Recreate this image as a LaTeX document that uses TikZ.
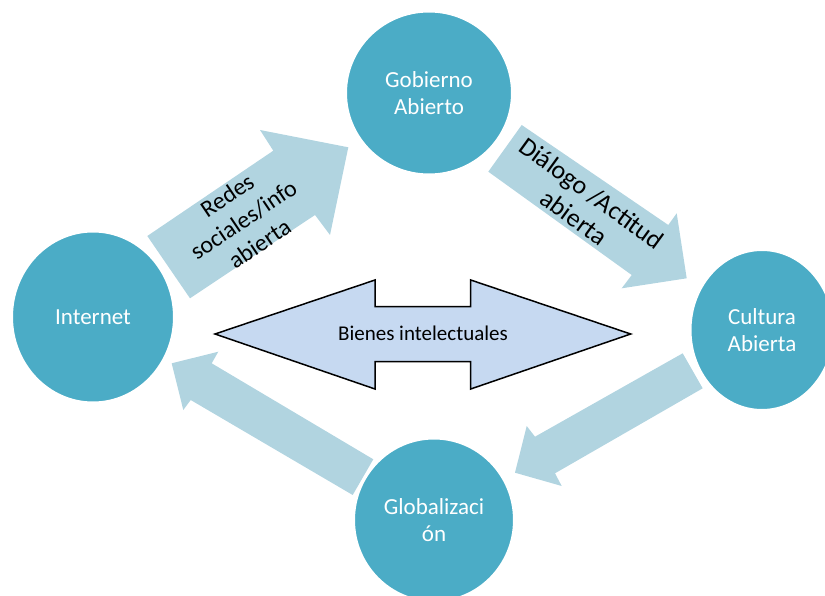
\documentclass[tikz,border=0pt]{standalone}
\usepackage{fontspec}
\setmainfont{Carlito}
\usetikzlibrary{shapes.geometric}
\definecolor{bubble}{HTML}{4BACC6}
\definecolor{flow}{HTML}{B1D4E0}
\definecolor{twoway}{HTML}{C6D9F1}

\begin{document}
\begin{tikzpicture}[x=1pt,y=-1pt,
  bubble/.style={ellipse, fill=bubble, draw=white, line width=3pt, text=white,
    align=center, inner sep=0pt, font=\fontsize{23}{27}\selectfont},
  flowarrow/.style={fill=flow, draw=none},
  flowlabel/.style={align=center, text=black, inner sep=0pt}]
\useasboundingbox (0,0) rectangle (825,596);

% block arrows of the cycle
\path[flowarrow] (190,298.3) -- (147.3,236) -- (273.3,150.7) -- (260,130)
  -- (348.3,147.3) -- (330,235) -- (315,215) -- cycle;
\path[flowarrow] (521.7,125) -- (668.3,225) -- (676.7,213.3) -- (686.7,278.3)
  -- (621.7,288.3) -- (631.7,275) -- (488.3,171.7) -- cycle;
\path[flowarrow] (682.7,353.3) -- (535,436.7) -- (526.7,426) -- (515,472.7)
  -- (561.7,486) -- (555,473.3) -- (702.7,388.3) -- cycle;
\path[flowarrow] (352.7,495) -- (373.3,459.3) -- (211.7,363.3) -- (218.3,351.7)
  -- (171.7,363.3) -- (183.3,410) -- (190.7,400) -- cycle;

% arrow labels
\node[flowlabel, rotate=34, font=\fontsize{24}{29}\selectfont] (redes) at (243.3,219.5)
  {Redes\\sociales/info\\abierta};
\node[flowlabel, rotate=-36, font=\fontsize{26}{30}\selectfont] (dialogo) at (583,205.3)
  {Diálogo /Actitud\\abierta};

% central two-way arrow
\path[fill=twoway, draw=black, line width=1.5pt, line join=miter]
  (215,334) -- (375,280) -- (375,306.7) -- (470.7,306.7) -- (470.7,280)
  -- (630.7,334) -- (470.7,389) -- (470.7,361.7) -- (375,361.7) -- (375,389) -- cycle;
\node[font=\fontsize{21}{25}\selectfont, inner sep=0pt] (bienes) at (423,333) {Bienes intelectuales};

% concept bubbles
\node[bubble, minimum width=167pt, minimum height=164pt] (gob) at (429,93) {Gobierno\\Abierto};
\node[bubble, minimum width=163pt, minimum height=172pt] (inet) at (93,317) {Internet};
\node[bubble, minimum width=144pt, minimum height=161pt] (cult) at (762,330) {Cultura\\Abierta};
\node[bubble, minimum width=161pt, minimum height=164pt] (glob) at (434,520) {Globalizaci\\ón};
\end{tikzpicture}
\end{document}
